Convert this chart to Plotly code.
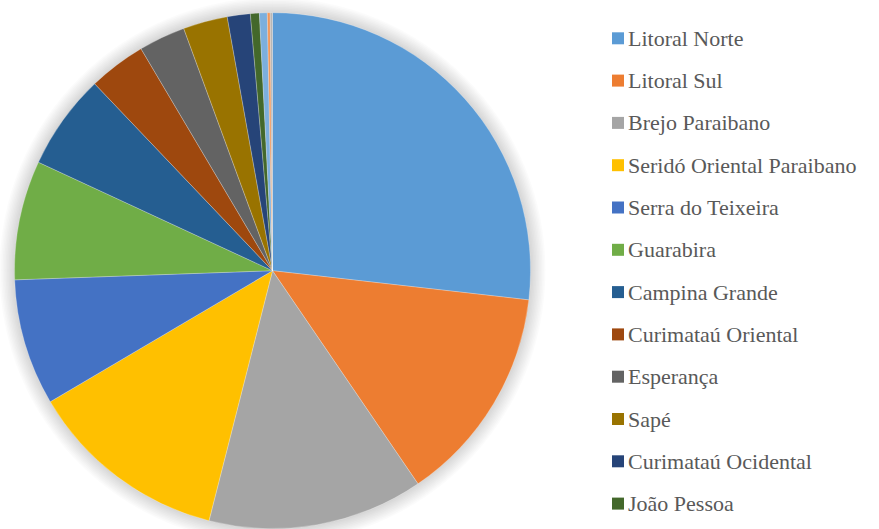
import plotly.graph_objects as go

# Share of each microregion (%), in drawing order (clockwise from 12 o'clock)
regions = [
    "Litoral Norte", "Litoral Sul", "Brejo Paraibano", "Seridó Oriental Paraibano",
    "Serra do Teixeira", "Guarabira", "Campina Grande", "Curimataú Oriental",
    "Esperança", "Sapé", "Curimataú Ocidental", "João Pessoa",
    "Outras (1)", "Outras (2)", "Outras (3)",
]
shares = [26.8, 13.66, 13.49, 12.56, 7.91, 7.47, 5.99, 3.59,
          2.92, 2.78, 1.44, 0.56, 0.49, 0.18, 0.14]
colors = ["#5B9BD5", "#ED7D31", "#A5A5A5", "#FFC000", "#4472C4", "#70AD47",
          "#255E91", "#9E480E", "#636363", "#997300", "#264478", "#43682B",
          "#7CAFDD", "#F1975A", "#B7B7B7"]
legend_count = 12  # entries listed in the legend

W, H = 879, 529
cx, cy, r = 272.5, 270.7, 258.0  # pie centre / radius in pixels

fig = go.Figure(go.Pie(
    labels=regions,
    values=shares,
    sort=False,
    direction="clockwise",
    rotation=0,
    textinfo="none",
    showlegend=False,
    marker=dict(colors=colors, line=dict(color="rgba(255,255,255,0.5)", width=0.5)),
    domain=dict(x=[(cx - r) / W, (cx + r) / W],
                y=[(H - cy - r) / H, (H - cy + r) / H]),
))

shapes = []
# soft shadow around the pie
for k in range(1, 11):
    rr = r + 1.5 * k
    shapes.append(dict(
        type="circle", xref="paper", yref="paper", layer="below",
        x0=(cx - rr) / W, x1=(cx + rr) / W,
        y0=(H - cy - rr) / H, y1=(H - cy + rr) / H,
        fillcolor="rgba(0,0,0,0.015)", line=dict(width=0),
    ))

# legend: coloured squares with labels
annotations = []
y_first, step = 38.3, 42.3
for i in range(legend_count):
    yc = y_first + i * step
    shapes.append(dict(
        type="rect", xref="paper", yref="paper",
        x0=612 / W, x1=624 / W,
        y0=1 - (yc + 6) / H, y1=1 - (yc - 6) / H,
        fillcolor=colors[i], line=dict(width=0),
    ))
    annotations.append(dict(
        x=626 / W, y=1 - yc / H, xref="paper", yref="paper",
        xanchor="left", yanchor="middle", showarrow=False,
        text=regions[i],
        font=dict(family="Liberation Serif", size=22, color="#595959"),
    ))

fig.update_layout(
    width=W, height=H,
    margin=dict(l=0, r=0, t=0, b=0),
    paper_bgcolor="white",
    plot_bgcolor="white",
    shapes=shapes,
    annotations=annotations,
)

fig.write_html("out.html")
